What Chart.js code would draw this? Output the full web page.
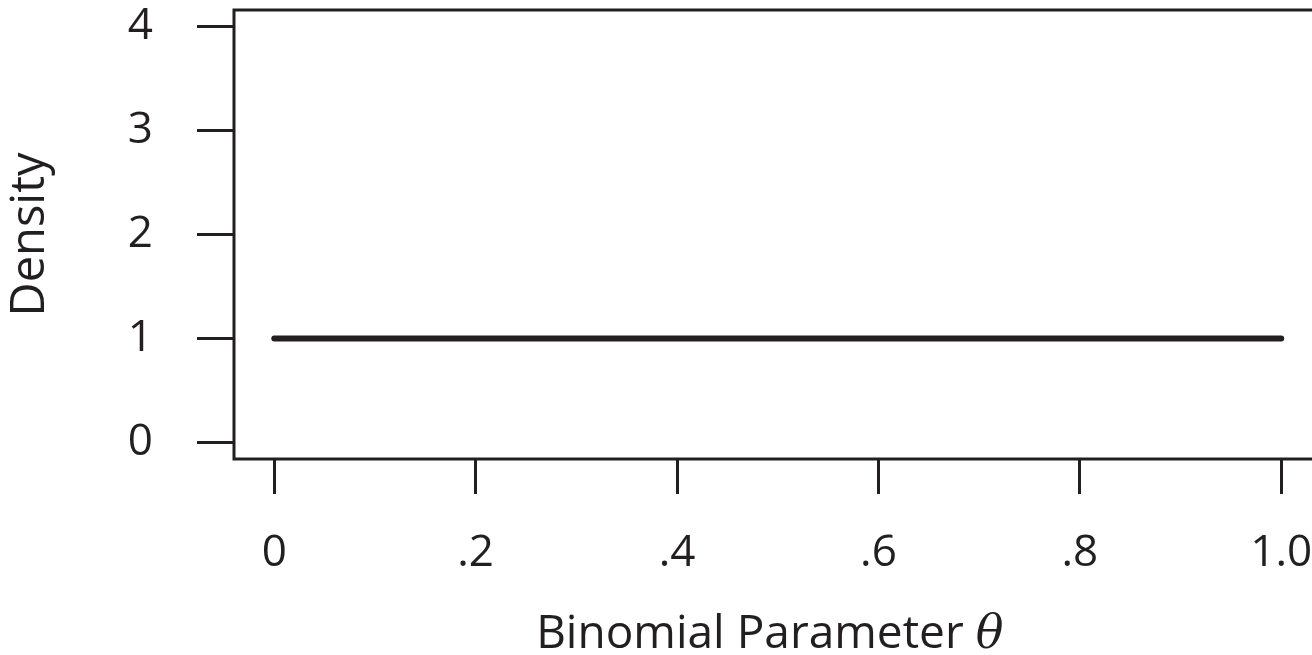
<!DOCTYPE html>
<html>
<head>
<meta charset="utf-8">
<title>Uniform prior density</title>
<script src="https://cdn.jsdelivr.net/npm/chart.js@4/dist/chart.umd.min.js"></script>
<style>
  html, body { margin: 0; padding: 0; background: #ffffff; overflow: hidden; }
  #wrap { width: 1312px; height: 655px; overflow: hidden; }
  canvas { display: block; }
</style>
</head>
<body>
<div id="wrap"><canvas id="chart" width="1323" height="655"></canvas></div>
<script>
// Uniform (Beta(1,1)) density over the binomial parameter
const thetaValues = [0, 1];
const densityValues = [1, 1];

const xTickValues = [0, 0.2, 0.4, 0.6, 0.8, 1.0];
const xTickLabels = ['0', '.2', '.4', '.6', '.8', '1.0'];
const yTickValues = [0, 1, 2, 3, 4];
const yTickLabels = ['0', '1', '2', '3', '4'];

const INK = '#231f20';
const FONT = '"Open Sans", "Noto Sans", sans-serif';

// Frame around the plotting region
const framePlugin = {
  id: 'frame',
  afterDraw(chart) {
    const a = chart.chartArea;
    const ctx = chart.ctx;
    ctx.save();
    ctx.strokeStyle = INK;
    ctx.lineWidth = 3;
    ctx.strokeRect(a.left, a.top, a.right - a.left, a.bottom - a.top);
    ctx.restore();
  }
};

// Horizontal axis title with an italic theta
const xTitlePlugin = {
  id: 'xTitle',
  afterDraw(chart) {
    const ctx = chart.ctx;
    const a = chart.chartArea;
    const main = 'Binomial Parameter ';
    const sym = '\u03B8';
    const mainFont = '46px ' + FONT;
    const symFont = 'italic 46px "DejaVu Serif", "Liberation Serif", serif';
    ctx.save();
    ctx.fillStyle = INK;
    ctx.textBaseline = 'alphabetic';
    ctx.textAlign = 'left';
    ctx.font = mainFont;
    const w1 = ctx.measureText(main).width;
    ctx.font = symFont;
    const w2 = ctx.measureText(sym).width;
    const cx = (a.left + a.right) / 2 - 8;
    const x0 = cx - (w1 + w2) / 2;
    const base = 648;
    ctx.font = mainFont;
    ctx.fillText(main, x0, base);
    ctx.font = symFont;
    ctx.fillText(sym, x0 + w1, base);
    ctx.restore();
  }
};

new Chart(document.getElementById('chart'), {
  type: 'line',
  data: {
    datasets: [{
      data: thetaValues.map((t, i) => ({ x: t, y: densityValues[i] })),
      borderColor: INK,
      borderWidth: 6,
      borderCapStyle: 'round',
      pointRadius: 0,
      fill: false,
      tension: 0
    }]
  },
  options: {
    responsive: false,
    animation: false,
    layout: { padding: { top: 10, right: 1.5, left: 0, bottom: 0 } },
    plugins: {
      legend: { display: false },
      tooltip: { enabled: false }
    },
    scales: {
      x: {
        type: 'linear',
        min: -0.04,
        max: 1.04,
        afterFit(scale) {
          scale.height = 196;
          scale.paddingLeft = 0;
          scale.paddingRight = 0;
        },
        afterBuildTicks(scale) { scale.ticks = xTickValues.map(v => ({ value: v })); },
        grid: {
          drawOnChartArea: false,
          drawTicks: true,
          tickLength: 35,
          lineWidth: 3,
          color: INK
        },
        border: { display: false },
        ticks: {
          autoSkip: false,
          maxRotation: 0,
          padding: 33,
          color: INK,
          font: { family: FONT, size: 44 },
          callback: (v, i) => xTickLabels[i]
        }
      },
      y: {
        type: 'linear',
        min: -0.16,
        max: 4.16,
        afterFit(scale) {
          scale.width = 234;
          scale.paddingTop = 0;
          scale.paddingBottom = 0;
        },
        afterBuildTicks(scale) { scale.ticks = yTickValues.map(v => ({ value: v })); },
        grid: {
          drawOnChartArea: false,
          drawTicks: true,
          tickLength: 37,
          lineWidth: 3,
          color: INK
        },
        border: { display: false },
        ticks: {
          padding: 44,
          color: INK,
          font: { family: FONT, size: 44 },
          callback: (v, i) => yTickLabels[i]
        },
        title: {
          display: true,
          text: 'Density',
          color: INK,
          padding: { top: 2, bottom: 0 },
          font: { family: FONT, size: 47 }
        }
      }
    }
  },
  plugins: [framePlugin, xTitlePlugin]
});
</script>
</body>
</html>
